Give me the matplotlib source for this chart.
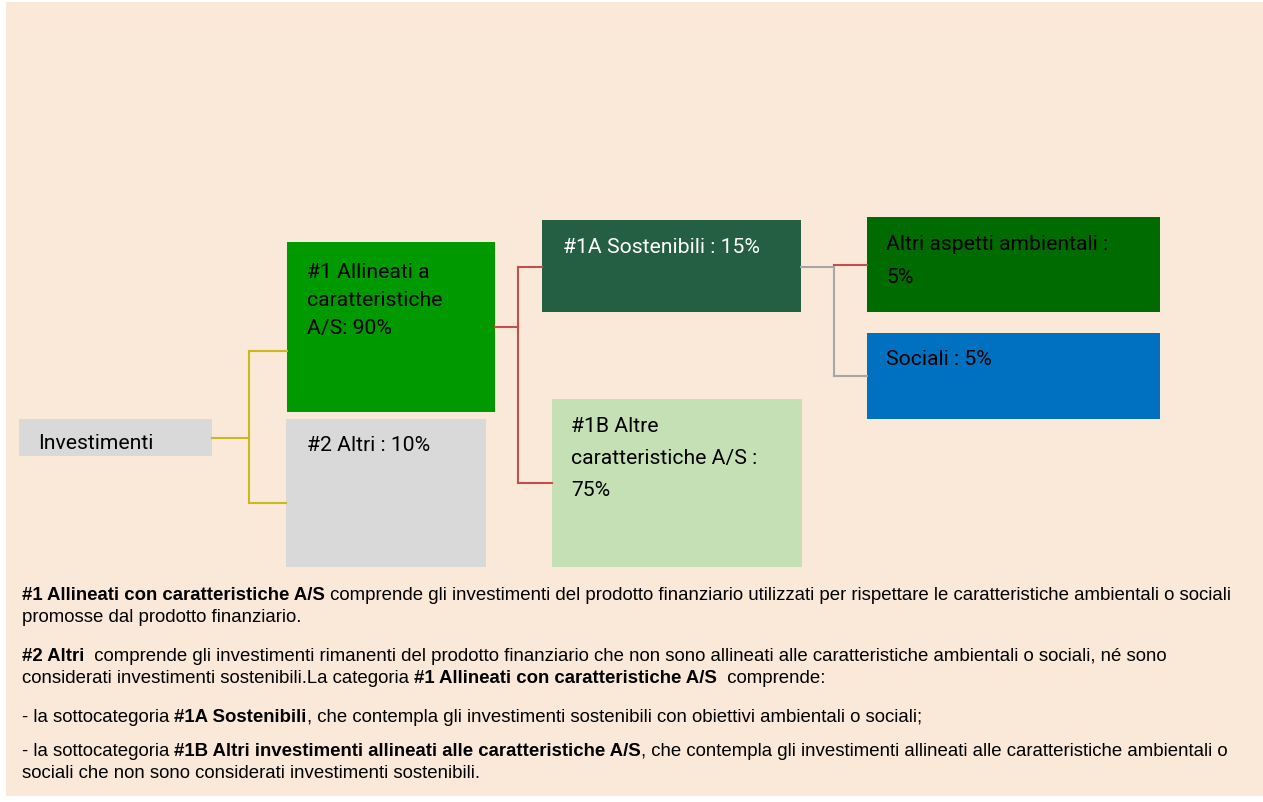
import matplotlib
matplotlib.use('agg')
import matplotlib.pyplot as plt
from matplotlib.patches import Rectangle

# categories and shares (percent of investments)
categories = ["Investimenti", "#1 Allineati a caratteristiche A/S", "#2 Altri",
              "#1A Sostenibili", "#1B Altre caratteristiche A/S",
              "Altri aspetti ambientali", "Sociali"]
shares = [None, 90, 10, 15, 75, 5, 5]

# labels as printed in the boxes (line breaks as in the picture)
box_labels = [
    ["Investimenti"],
    ["#1 Allineati a", "caratteristiche", "A/S: %d%%" % shares[1]],
    ["#2 Altri : %d%%" % shares[2]],
    ["#1A Sostenibili : %d%%" % shares[3]],
    ["#1B Altre", "caratteristiche A/S :", "%d%%" % shares[4]],
    ["Altri aspetti ambientali :", "%d%%" % shares[5]],
    ["Sociali : %d%%" % shares[6]],
]

# footnote text, one list of (text, bold) runs per line
notes = [
    [("#1 Allineati con caratteristiche A/S", True),
     (" comprende gli investimenti del prodotto finanziario utilizzati per rispettare le caratteristiche ambientali o sociali", False)],
    [("promosse dal prodotto finanziario.", False)],
    [("#2 Altri", True),
     ("  comprende gli investimenti rimanenti del prodotto finanziario che non sono allineati alle caratteristiche ambientali o sociali, né sono", False)],
    [("considerati investimenti sostenibili.La categoria ", False),
     ("#1 Allineati con caratteristiche A/S", True), ("  comprende:", False)],
    [("- la sottocategoria ", False), ("#1A Sostenibili", True),
     (", che contempla gli investimenti sostenibili con obiettivi ambientali o sociali;", False)],
    [("- la sottocategoria ", False), ("#1B Altri investimenti allineati alle caratteristiche A/S", True),
     (", che contempla gli investimenti allineati alle caratteristiche ambientali o", False)],
    [("sociali che non sono considerati investimenti sostenibili.", False)],
]

# layout (pixel coordinates, y downwards)
boxes = [(19, 420, 212, 457), (287, 243, 495, 413), (286, 420, 486, 568),
         (542, 221, 801, 313), (552, 400, 802, 568), (867, 218, 1160, 313),
         (867, 334, 1160, 420)]
box_colors = ["#d9d9d9", "#009900", "#d9d9d9", "#245f43", "#c5e0b4", "#006b00", "#0070c0"]
text_colors = ["black", "black", "black", "white", "black", "black", "black"]
text_pos = [(38, 449, 0), (307, 278, 28), (307, 451, 0), (563, 253, 0),
            (571, 432, 32), (886, 250, 33), (886, 365, 0)]
note_y = [600, 622, 661, 683, 722, 756, 778]

fig = plt.figure(figsize=(12.63, 8.03), dpi=100)
ax = fig.add_axes([0, 0, 1, 1])
ax.set_xlim(0, 1263)
ax.set_ylim(803, 0)
ax.axis('off')

ax.add_patch(Rectangle((6, 3), 1257, 794, color="#fae9d8", lw=0))

for (x0, y0, x1, y1), c in zip(boxes, box_colors):
    ax.add_patch(Rectangle((x0, y0), x1 - x0, y1 - y0, color=c, lw=0))

for lines, (tx, ty, step), tc in zip(box_labels, text_pos, text_colors):
    for i, line in enumerate(lines):
        ax.text(tx, ty + i * step, line, color=tc, fontsize=15.2, family='Roboto',
                va='baseline', ha='left')

# connectors
lw = 1.5
yellow = "#c9b81e"
red = "#c0504d"
grey = "#a6a6a6"
ax.plot([212, 249], [439, 439], color=yellow, lw=lw)
ax.plot([249, 249], [352, 504], color=yellow, lw=lw)
ax.plot([249, 287], [352, 352], color=yellow, lw=lw)
ax.plot([249, 286], [504, 504], color=yellow, lw=lw)
ax.plot([495, 518], [328, 328], color=red, lw=lw)
ax.plot([518, 518], [268, 484], color=red, lw=lw)
ax.plot([518, 542], [268, 268], color=red, lw=lw)
ax.plot([518, 552], [484, 484], color=red, lw=lw)
ax.plot([801, 834], [268, 268], color=grey, lw=lw)
ax.plot([834, 834], [268, 377], color=grey, lw=lw)
ax.plot([834, 867], [377, 377], color=grey, lw=lw)
ax.plot([834, 867], [266, 266], color=red, lw=lw)

renderer = fig.canvas.get_renderer()
note_size = 13.4


def run_width(s, bold):
    w = 'bold' if bold else 'normal'
    t1 = ax.text(0, 0, '|' + s + '|', fontsize=note_size, fontweight=w, family='Liberation Sans')
    t2 = ax.text(0, 0, '||', fontsize=note_size, fontweight=w, family='Liberation Sans')
    width = t1.get_window_extent(renderer).width - t2.get_window_extent(renderer).width
    t1.remove()
    t2.remove()
    return width


for runs, y in zip(notes, note_y):
    x = 22
    for s, bold in runs:
        ax.text(x, y, s, fontsize=note_size, fontweight='bold' if bold else 'normal',
                family='Liberation Sans', va='baseline', ha='left', color='black')
        x += run_width(s, bold)

plt.savefig('out.png', dpi=100)
